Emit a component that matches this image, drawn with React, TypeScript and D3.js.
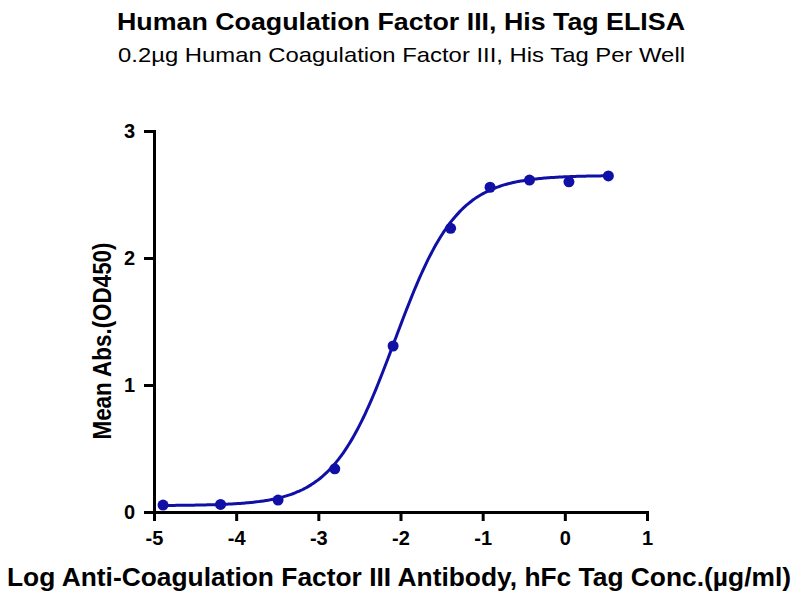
import React, { useEffect, useRef } from 'react';
import * as d3 from 'd3';

// log concentration (µg/ml) and mean OD450
const logConc = [-4.89, -4.19, -3.49, -2.8, -2.09, -1.39, -0.91, -0.43, 0.05, 0.53];
const meanAbs = [0.055, 0.06, 0.094, 0.34, 1.307, 2.234, 2.557, 2.614, 2.6, 2.646];

const xTicks = [-5, -4, -3, -2, -1, 0, 1];
const yTicks = [0, 1, 2, 3];

// 4PL fit estimated from the points
const fitBottom = 0.05;
const fitTop = 2.65;
const fitLogEC50 = -2.07;
const fitHill = 1.15;

const TITLE = 'Human Coagulation Factor III, His Tag ELISA';
const SUBTITLE = '0.2µg Human Coagulation Factor III, His Tag Per Well';
const X_LABEL = 'Log Anti-Coagulation Factor III Antibody, hFc Tag Conc.(µg/ml)';
const Y_LABEL = 'Mean Abs.(OD450)';

const BLUE = '#1010a6';
const FONT = '"Liberation Sans", Arial, sans-serif';

export default function App() {
  const svgRef = useRef<SVGSVGElement>(null);
  const width = 800;
  const height = 600;

  useEffect(() => {
    if (!svgRef.current) return;
    const svg = d3.select(svgRef.current);
    svg.selectAll('*').remove();

    const margin = { top: 131, right: 153, bottom: 88, left: 154 };
    const chartW = width - margin.left - margin.right;
    const chartH = height - margin.top - margin.bottom;

    const x = d3.scaleLinear().domain([-5, 1]).range([0, chartW]);
    const y = d3.scaleLinear().domain([0, 3]).range([chartH, 0]);

    svg.append('rect').attr('width', width).attr('height', height).attr('fill', '#fff');

    const g = svg.append('g').attr('transform', `translate(${margin.left},${margin.top})`);

    // Axes
    const xAxis = g.append('g')
      .attr('transform', `translate(0,${chartH})`)
      .call(d3.axisBottom(x).tickValues(xTicks).tickSize(9).tickPadding(10).tickFormat(d3.format('d')));
    const yAxis = g.append('g')
      .call(d3.axisLeft(y).tickValues(yTicks).tickSize(10).tickPadding(9).tickFormat(d3.format('d')));

    [xAxis, yAxis].forEach(ax => {
      ax.select('.domain').attr('stroke', '#000').attr('stroke-width', 3);
      ax.selectAll('.tick line').attr('stroke', '#000').attr('stroke-width', 3);
      ax.selectAll('.tick text')
        .attr('fill', '#000')
        .attr('font-family', FONT)
        .attr('font-weight', 'bold')
        .attr('font-size', 20);
    });
    // plain hyphen for negatives, as in the source
    xAxis.selectAll('.tick text').text((d: any) => String(d));

    // Fitted curve across the data range
    const xs = d3.range(logConc[0], logConc[logConc.length - 1] + 0.001, 0.02);
    const fit = (v: number) => fitBottom + (fitTop - fitBottom) / (1 + Math.pow(10, (fitLogEC50 - v) * fitHill));
    const line = d3.line<number>()
      .x(d => x(d))
      .y(d => y(fit(d)))
      .curve(d3.curveMonotoneX);

    g.append('path')
      .datum(xs)
      .attr('fill', 'none')
      .attr('stroke', BLUE)
      .attr('stroke-width', 3)
      .attr('d', line);

    // Data points
    g.selectAll('.dot')
      .data(logConc)
      .enter()
      .append('circle')
      .attr('class', 'dot')
      .attr('cx', d => x(d))
      .attr('cy', (_, i) => y(meanAbs[i]))
      .attr('r', 5.5)
      .attr('fill', BLUE);

    // Titles
    svg.append('text')
      .attr('x', 401).attr('y', 30)
      .attr('text-anchor', 'middle')
      .attr('font-family', FONT)
      .attr('font-weight', 'bold')
      .attr('font-size', 24)
      .attr('textLength', 568)
      .attr('lengthAdjust', 'spacingAndGlyphs')
      .text(TITLE);

    svg.append('text')
      .attr('x', 401.5).attr('y', 62)
      .attr('text-anchor', 'middle')
      .attr('font-family', FONT)
      .attr('font-size', 21)
      .attr('textLength', 567)
      .attr('lengthAdjust', 'spacingAndGlyphs')
      .text(SUBTITLE);

    svg.append('text')
      .attr('x', 399).attr('y', 586)
      .attr('text-anchor', 'middle')
      .attr('font-family', FONT)
      .attr('font-weight', 'bold')
      .attr('font-size', 26)
      .attr('textLength', 784)
      .attr('lengthAdjust', 'spacingAndGlyphs')
      .text(X_LABEL);

    svg.append('text')
      .attr('transform', `translate(111,341) rotate(-90)`)
      .attr('text-anchor', 'middle')
      .attr('font-family', FONT)
      .attr('font-weight', 'bold')
      .attr('font-size', 25)
      .attr('textLength', 197)
      .attr('lengthAdjust', 'spacingAndGlyphs')
      .text(Y_LABEL);
  }, []);

  return (
    <div style={{ width, height, margin: -8 }}>
      <svg ref={svgRef} width={width} height={height} style={{ display: 'block' }} />
    </div>
  );
}
